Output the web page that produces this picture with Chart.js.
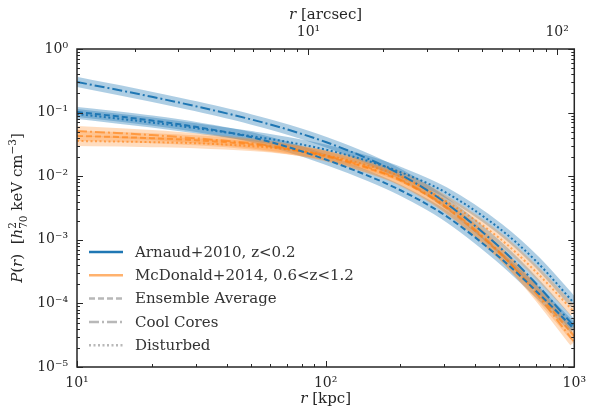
<!DOCTYPE html>
<html>
<head>
<meta charset="utf-8">
<script src="https://cdn.jsdelivr.net/npm/chart.js@4.4.1/dist/chart.umd.min.js"></script>
<style>
  html, body { margin: 0; padding: 0; background: #fff; }
</style>
</head>
<body>
<canvas id="pressureChart" width="594" height="414"></canvas>
<script>
// radii the curves were read at (kpc)
const rKpc = [10, 15, 20, 30, 50, 70, 100, 150, 200, 300, 500, 700, 1000];

// Arnaud+2010, z<0.2
const arnaudAvg  = [0.102, 0.0861, 0.0750, 0.0597, 0.0413, 0.0290, 0.0183, 0.00995, 0.00601, 0.00247, 5.32e-4, 1.585e-4, 3.94e-5];
const arnaudCC   = [0.303, 0.2225, 0.1772, 0.1260, 0.0784, 0.0545, 0.0345, 0.0184, 0.01066, 0.00395, 7.7e-4, 2.07e-4, 4.32e-5];
const arnaudDist = [0.0951, 0.0795, 0.0697, 0.0569, 0.0428, 0.0347, 0.0262, 0.0171, 0.0116, 0.00571, 1.51e-3, 4.67e-4, 1.0e-4];

// McDonald+2014, 0.6<z<1.2
const mcdAvg  = [0.0429, 0.0412, 0.0396, 0.0368, 0.0316, 0.0267, 0.0205, 0.0131, 0.00851, 0.00335, 6.21e-4, 1.56e-4, 3.03e-5];
const mcdCC   = [0.0514, 0.0474, 0.0443, 0.0395, 0.0329, 0.0276, 0.0211, 0.0135, 0.00879, 0.00346, 6.41e-4, 1.46e-4, 2.45e-5];
const mcdDist = [0.0357, 0.0350, 0.0343, 0.0330, 0.0297, 0.0264, 0.0214, 0.0145, 0.00985, 0.00421, 1.06e-3, 3.16e-4, 7.3e-5];

// axis ticks
const yTicks = [1e-5, 1e-4, 1e-3, 1e-2, 1e-1, 1];
const xTicks = [10, 100, 1000];
const arcsecTicks = [10, 100];
const kpcPerArcsec = 8.53;

const legendLabels = ['Arnaud+2010, z<0.2', 'McDonald+2014, 0.6<z<1.2', 'Ensemble Average', 'Cool Cores', 'Disturbed'];

const blue = '#1f77b4';
const blueBand = 'rgba(31,119,180,0.36)';
const orange = 'rgba(255,127,14,0.6)';
const orangeBand = 'rgba(255,140,40,0.3)';
const grey = '#b8b8b8';
const dashes = { avg: [6, 3], cc: [10, 3, 2, 3], dist: [2, 2.5], solid: [] };
const serif = '"DejaVu Serif", "Liberation Serif", serif';
const ink = '#262626';

function pts(vals) {
  return rKpc.map((r, i) => ({ x: r, y: vals[i] }));
}

const series = [
  { vals: arnaudAvg,  color: blue,   band: blueBand,   dash: dashes.avg,  bandOrder: 2 },
  { vals: arnaudCC,   color: blue,   band: blueBand,   dash: dashes.cc,   bandOrder: 2 },
  { vals: arnaudDist, color: blue,   band: blueBand,   dash: dashes.dist, bandOrder: 2 },
  { vals: mcdAvg,     color: orange, band: orangeBand, dash: dashes.avg,  bandOrder: 1 },
  { vals: mcdCC,      color: orange, band: orangeBand, dash: dashes.cc,   bandOrder: 1 },
  { vals: mcdDist,    color: orange, band: orangeBand, dash: dashes.dist, bandOrder: 1 }
];

const datasets = [];
series.forEach(s => {
  // styled line on top
  datasets.push({
    data: pts(s.vals), borderColor: s.color, borderWidth: 2, borderDash: s.dash,
    pointRadius: 0, fill: false, clip: 0, order: 0, cubicInterpolationMode: 'monotone'
  });
  // translucent band under it
  datasets.push({
    data: pts(s.vals), borderColor: s.band, borderWidth: 10,
    pointRadius: 0, fill: false, clip: 0, order: s.bandOrder, cubicInterpolationMode: 'monotone'
  });
});

const supMap = { '-': '\u207B', '0': '\u2070', '1': '\u00B9', '2': '\u00B2', '3': '\u00B3',
  '4': '\u2074', '5': '\u2075', '6': '\u2076', '7': '\u2077', '8': '\u2078', '9': '\u2079' };
function powLabel(v) {
  const e = Math.round(Math.log10(v));
  return '10' + String(e).split('').map(c => supMap[c]).join('');
}

// mixed italic / sub / sup text, centred on cx
function fontFor(p, size) {
  const s = p.small ? size * 0.7 : size;
  return (p.it ? 'italic ' : '') + s + 'px ' + serif;
}
function partWidth(ctx, p, size) {
  if (p.sub !== undefined) {
    ctx.font = fontFor({ small: true }, size);
    return Math.max(ctx.measureText(p.sub).width, ctx.measureText(p.sup).width);
  }
  ctx.font = fontFor(p, size);
  return ctx.measureText(p.t).width;
}
function drawRich(ctx, parts, cx, baseY, size) {
  let total = 0;
  parts.forEach(p => { total += partWidth(ctx, p, size); });
  let x = cx - total / 2;
  ctx.textAlign = 'left';
  ctx.textBaseline = 'alphabetic';
  parts.forEach(p => {
    const w = partWidth(ctx, p, size);
    if (p.sub !== undefined) {
      ctx.fillText(p.sub, x, baseY + size * 0.3);
      ctx.fillText(p.sup, x, baseY - size * 0.42);
    } else {
      ctx.font = fontFor(p, size);
      ctx.fillText(p.t, x, baseY + (p.dy || 0) * size);
    }
    x += w;
  });
}

const framePlugin = {
  id: 'framePlugin',
  afterDraw(chart) {
    const { ctx, chartArea: a, scales } = chart;
    const line = (x1, y1, x2, y2) => { ctx.beginPath(); ctx.moveTo(x1, y1); ctx.lineTo(x2, y2); ctx.stroke(); };
    ctx.save();
    ctx.strokeStyle = ink;
    ctx.lineWidth = 1;

    // inward ticks, left and right
    for (let e = -5; e <= 0; e++) {
      for (let k = 1; k <= 9; k++) {
        const v = k * Math.pow(10, e);
        if (v > 1.000001) break;
        const py = Math.round(scales.y.getPixelForValue(v)) + 0.5;
        const len = k === 1 ? 6 : 3;
        line(a.left, py, a.left + len, py);
        line(a.right, py, a.right - len, py);
      }
    }
    // bottom (kpc)
    for (let e = 1; e <= 3; e++) {
      for (let k = 1; k <= 9; k++) {
        const v = k * Math.pow(10, e);
        if (v > 1000.001) break;
        const px = Math.round(scales.x.getPixelForValue(v)) + 0.5;
        line(px, a.bottom, px, a.bottom - (k === 1 ? 6 : 3));
      }
    }
    // top (arcsec)
    for (let e = 0; e <= 2; e++) {
      for (let k = 1; k <= 9; k++) {
        const v = k * Math.pow(10, e);
        if (v < scales.x2.min || v > scales.x2.max) continue;
        const px = Math.round(scales.x2.getPixelForValue(v)) + 0.5;
        line(px, a.top, px, a.top + (k === 1 ? 6 : 3));
      }
    }

    // frame
    ctx.lineWidth = 1.5;
    ctx.strokeRect(a.left, a.top, a.right - a.left, a.bottom - a.top);

    // axis titles
    ctx.fillStyle = ink;
    const cx = (a.left + a.right) / 2;
    drawRich(ctx, [{ t: 'r', it: 1 }, { t: ' [kpc]' }], cx, 403, 15);
    drawRich(ctx, [{ t: 'r', it: 1 }, { t: ' [arcsec]' }], cx, 19, 15);
    ctx.save();
    ctx.translate(22, (a.top + a.bottom) / 2);
    ctx.rotate(-Math.PI / 2);
    drawRich(ctx, [
      { t: 'P', it: 1 }, { t: '(' }, { t: 'r', it: 1 }, { t: ')  [' },
      { t: 'h', it: 1 }, { sub: '70', sup: '2' }, { t: ' keV cm' },
      { t: '\u22123', small: 1, dy: -0.42 }, { t: ']' }
    ], 0, 0, 15);
    ctx.restore();

    // legend inside the plot
    const legendColors = [blue, orange, grey, grey, grey];
    const legendDash = [dashes.solid, dashes.solid, [6, 3], [10, 3, 2, 3], [2, 2.5]];
    ctx.font = '15px ' + serif;
    ctx.textBaseline = 'middle';
    legendLabels.forEach((lab, i) => {
      const yy = 252 + i * 23.3;
      ctx.strokeStyle = legendColors[i];
      ctx.lineWidth = 2.5;
      ctx.setLineDash(legendDash[i]);
      line(a.left + 12, yy, a.left + 46, yy);
      ctx.setLineDash([]);
      ctx.fillStyle = '#333';
      ctx.fillText(lab, a.left + 58, yy + 1);
    });
    ctx.restore();
  }
};

const tickFont = { family: serif, size: 14 };

new Chart(document.getElementById('pressureChart').getContext('2d'), {
  type: 'line',
  data: { datasets: datasets },
  options: {
    responsive: false,
    animation: false,
    layout: { padding: { left: 0, right: 14, top: 0, bottom: 0 } },
    plugins: { legend: { display: false }, tooltip: { enabled: false } },
    scales: {
      x: {
        type: 'logarithmic', position: 'bottom', min: 10, max: 1000,
        grid: { display: false, drawTicks: false }, border: { display: false },
        ticks: { font: tickFont, color: ink, padding: 8, autoSkip: false, maxRotation: 0, callback: v => powLabel(v) },
        afterBuildTicks: s => { s.ticks = xTicks.map(v => ({ value: v })); },
        afterFit: s => { s.height = 47; }
      },
      x2: {
        type: 'logarithmic', position: 'top', axis: 'x',
        min: 10 / kpcPerArcsec, max: 1000 / kpcPerArcsec,
        grid: { display: false, drawTicks: false }, border: { display: false },
        ticks: { font: tickFont, color: ink, padding: 8, autoSkip: false, maxRotation: 0, callback: v => powLabel(v) },
        afterBuildTicks: s => { s.ticks = arcsecTicks.map(v => ({ value: v })); },
        afterFit: s => { s.height = 49; }
      },
      y: {
        type: 'logarithmic', position: 'left', min: 1e-5, max: 1,
        grid: { display: false, drawTicks: false }, border: { display: false },
        ticks: { font: tickFont, color: ink, padding: 9, autoSkip: false, callback: v => powLabel(v) },
        afterBuildTicks: s => { s.ticks = yTicks.map(v => ({ value: v })); },
        afterFit: s => { s.width = 77; }
      }
    }
  },
  plugins: [framePlugin]
});
</script>
</body>
</html>
